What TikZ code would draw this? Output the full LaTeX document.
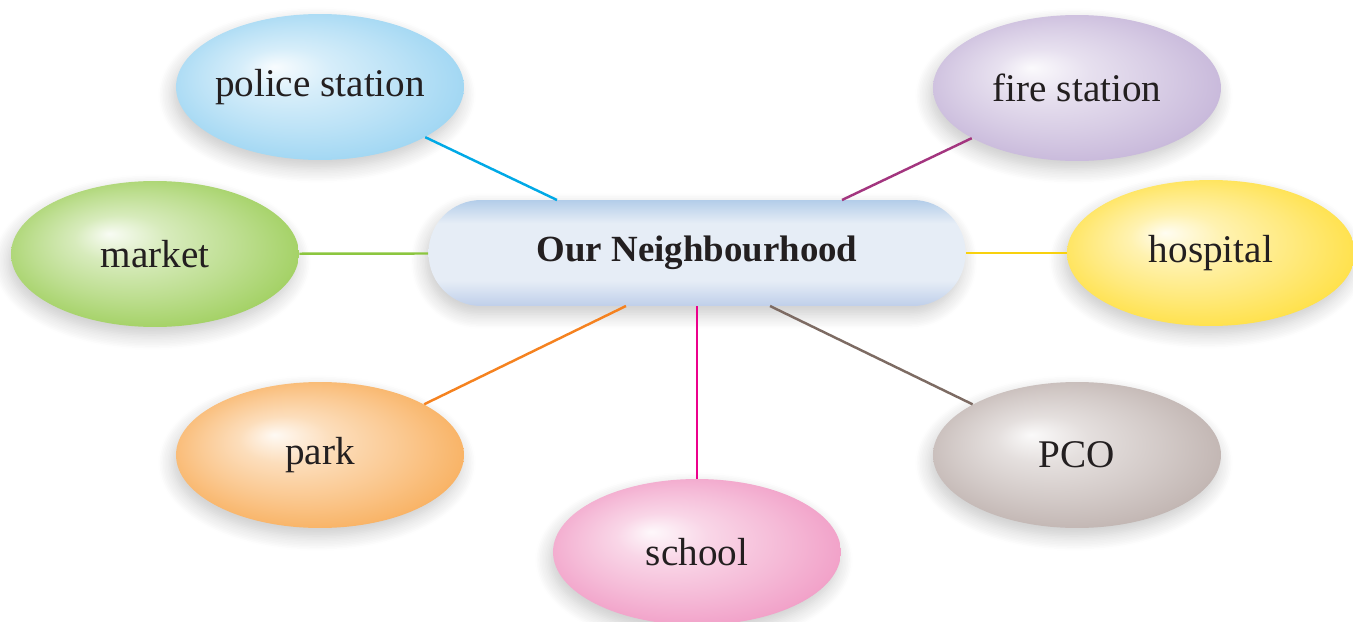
\documentclass[tikz,border=0pt]{standalone}
\usepackage{fontspec}
\setmainfont{Liberation Serif}
\usetikzlibrary{shapes.geometric,shadows.blur}
\definecolor{txt}{HTML}{231F20}
\definecolor{cPolice}{HTML}{8ACDF0}
\definecolor{lPolice}{HTML}{00A9E6}
\definecolor{cFire}{HTML}{BBA8D2}
\definecolor{lFire}{HTML}{A3357F}
\definecolor{cMarket}{HTML}{8DC63F}
\definecolor{lMarket}{HTML}{8CC63F}
\definecolor{cHosp}{HTML}{FFDA1F}
\definecolor{lHosp}{HTML}{F8D10E}
\definecolor{cPark}{HTML}{F7A03F}
\definecolor{lPark}{HTML}{F58220}
\definecolor{cPCO}{HTML}{B3A4A0}
\definecolor{lPCO}{HTML}{7D6B63}
\definecolor{cSchool}{HTML}{EE8ABB}
\definecolor{lSchool}{HTML}{EC008C}
\definecolor{hubTop}{HTML}{B3CDE9}
\definecolor{hubMid}{HTML}{E6EDF6}
\definecolor{hubBot}{HTML}{BFCFEA}
\colorlet{glosscol}{white}
\pgfdeclareradialshading[glosscol]{gloss}{\pgfqpoint{-8bp}{7bp}}{color(0bp)=(glosscol!6!white); color(8bp)=(glosscol!35!white); color(18bp)=(glosscol!58!white); color(26bp)=(glosscol!78!white); color(32bp)=(glosscol)}
\pgfdeclareverticalshading{hubshade}{100bp}{color(0bp)=(hubBot); color(25bp)=(hubBot); color(37bp)=(hubMid); color(64bp)=(hubMid); color(75bp)=(hubTop); color(100bp)=(hubTop)}
\tikzset{
  soft/.style={blur shadow={shadow xshift=-0.6mm, shadow yshift=-1.6mm, shadow blur radius=3mm, shadow blur steps=10, shadow opacity=22}},
  bubble/.style={ellipse, minimum width=5.76cm, minimum height=2.92cm, inner sep=0pt,
    shading=gloss, /utils/exec={\colorlet{glosscol}{#1}}, soft},
  lbl/.style={font=\fontsize{22.3}{26}\selectfont, text=txt, inner sep=0pt},
  hub/.style={rectangle, rounded corners=1.05cm, minimum width=10.74cm, minimum height=2.12cm,
    shading=hubshade, soft,
    font=\bfseries\fontsize{21}{25}\selectfont, text=txt},
  link/.style={line width=1.4pt}
}
\begin{document}
\begin{tikzpicture}[x=0.02cm, y=-0.02cm]
\useasboundingbox (0,0) rectangle (1353,622);
\node[hub] (hub) at (697,253) {Our Neighbourhood};
\node[bubble=cPolice, label={[lbl]center:police station}] (police) at (320,87) {};
\node[bubble=cFire, label={[lbl]center:fire station}] (fire) at (1077,88) {};
\node[bubble=cMarket, label={[lbl]center:market}] (market) at (155,254) {};
\node[bubble=cHosp, label={[lbl]center:hospital}] (hospital) at (1211,253) {};
\node[bubble=cPark, label={[lbl]center:park}] (park) at (320,455) {};
\node[bubble=cPCO, label={[lbl]center:PCO}] (pco) at (1077,455) {};
\node[bubble=cSchool, label={[lbl]center:school}] (school) at (697,552) {};
\coordinate (hp) at (557,200);
\coordinate (hf) at (842,200);
\coordinate (hk) at (626,306);
\coordinate (hc) at (770,306);
\draw[link, lPolice] (police) -- (hp);
\draw[link, lFire] (fire) -- (hf);
\draw[link, lMarket] (market) -- (hub);
\draw[link, lHosp] (hub) -- (hospital);
\draw[link, lPark] (park) -- (hk);
\draw[link, lPCO] (pco) -- (hc);
\draw[link, lSchool] (hub) -- (school);
\end{tikzpicture}
\end{document}
